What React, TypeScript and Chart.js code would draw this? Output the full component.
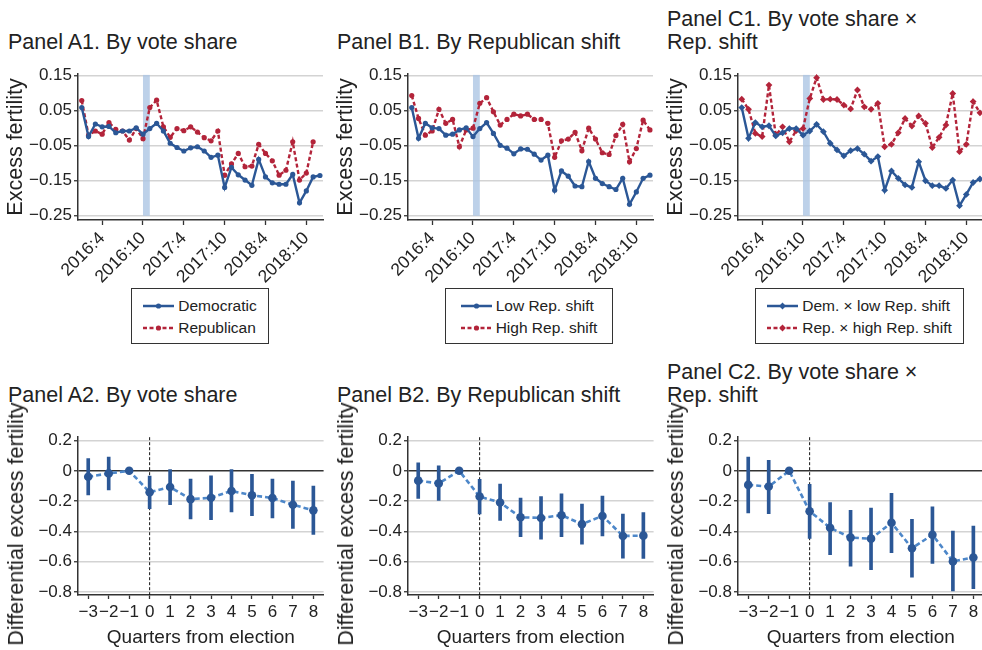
import React, { useEffect, useRef } from "react";
import { Chart, registerables } from "chart.js";

Chart.register(...registerables);

const FONT = "'Liberation Sans', Arial, Helvetica, sans-serif";
Chart.defaults.font.family = FONT;

const TEXT = "#222222";
const AXIS = "#333333";
const GRID = "#d3d3d3";
const BLUE = "#2b5796";
const RED = "#b3243a";
const BAND = "rgba(172, 198, 228, 0.8)";
const CI_BLUE = "#2b5796";
const LINE_BLUE = "#4d87c9";

// ---------- Top row: monthly excess fertility ----------
const MONTHS = [
  "2016:1", "2016:2", "2016:3", "2016:4", "2016:5", "2016:6",
  "2016:7", "2016:8", "2016:9", "2016:10", "2016:11", "2016:12",
  "2017:1", "2017:2", "2017:3", "2017:4", "2017:5", "2017:6",
  "2017:7", "2017:8", "2017:9", "2017:10", "2017:11", "2017:12",
  "2018:1", "2018:2", "2018:3", "2018:4", "2018:5", "2018:6",
  "2018:7", "2018:8", "2018:9", "2018:10", "2018:11", "2018:12",
];
const MONTH_TICKS = ["2016:4", "2016:10", "2017:4", "2017:10", "2018:4", "2018:10"];
const ELECTION_BAND = ["2016:10", "2016:11"];
const TOP_Y_TICKS = [0.15, 0.05, -0.05, -0.15, -0.25];

const A1_DEM = [
  0.059, -0.024, 0.012, 0.004, 0.005, -0.013, -0.008, -0.008, 0.001, -0.017, -0.001, 0.014,
  -0.008, -0.043, -0.055, -0.065, -0.056, -0.053, -0.065, -0.083, -0.077, -0.169, -0.112, -0.133,
  -0.148, -0.163, -0.089, -0.139, -0.156, -0.160, -0.160, -0.132, -0.213, -0.179, -0.139, -0.135,
];
const A1_REP = [
  0.079, -0.020, -0.008, -0.017, 0.016, -0.003, -0.008, -0.034, -0.001, -0.030, 0.059, 0.080,
  0.004, -0.026, -0.001, -0.007, 0.004, -0.011, -0.027, -0.036, -0.008, -0.134, -0.102, -0.072,
  -0.110, -0.108, -0.046, -0.072, -0.093, -0.134, -0.120, -0.039, -0.148, -0.128, -0.039, null,
];
const B1_LOW = [
  0.059, -0.029, 0.014, 0.001, -0.001, -0.020, -0.017, -0.005, 0.001, -0.024, -0.001, 0.016,
  -0.015, -0.049, -0.057, -0.073, -0.059, -0.060, -0.074, -0.091, -0.077, -0.177, -0.122, -0.137,
  -0.165, -0.167, -0.095, -0.143, -0.158, -0.167, -0.175, -0.143, -0.217, -0.182, -0.143, -0.134,
];
const B1_HIGH = [
  0.093, 0.028, -0.020, -0.008, 0.054, 0.014, 0.025, -0.053, -0.005, 0.000, 0.071, 0.087,
  0.047, 0.009, 0.025, 0.040, 0.035, 0.040, 0.025, 0.025, 0.014, -0.083, -0.036, -0.031,
  -0.012, -0.064, 0.000, -0.031, -0.070, -0.075, -0.021, 0.011, -0.096, -0.058, 0.023, -0.005,
];
const C1_DEM_LOW = [
  0.059, -0.029, 0.016, 0.004, 0.007, -0.022, -0.013, -0.001, -0.001, -0.020, -0.008, 0.011,
  -0.010, -0.043, -0.062, -0.079, -0.064, -0.058, -0.074, -0.094, -0.081, -0.177, -0.122, -0.143,
  -0.162, -0.169, -0.096, -0.150, -0.164, -0.164, -0.172, -0.148, -0.221, -0.189, -0.155, -0.145,
];
const C1_REP_HIGH = [
  0.083, 0.054, -0.015, -0.024, 0.123, -0.020, 0.004, -0.039, -0.007, -0.001, 0.085, 0.144,
  0.082, 0.083, 0.082, 0.066, 0.055, 0.109, 0.061, 0.054, 0.071, -0.053, -0.046, -0.013,
  0.028, 0.006, 0.035, 0.014, -0.055, -0.026, 0.009, 0.099, -0.067, -0.046, 0.076, 0.044,
];

// ---------- Bottom row: quarterly event-study estimates ----------
const QUARTERS = [-3, -2, -1, 0, 1, 2, 3, 4, 5, 6, 7, 8];
const ELECTION_QUARTER = 0;
const BOTTOM_Y_TICKS = [0.2, 0, -0.2, -0.4, -0.6, -0.8];

const A2_EST = [-0.039, -0.017, 0, -0.141, -0.107, -0.187, -0.178, -0.133, -0.161, -0.180, -0.224, -0.261];
const A2_LO = [-0.159, -0.126, null, -0.250, -0.224, -0.317, -0.322, -0.272, -0.296, -0.311, -0.380, -0.420];
const A2_HI = [0.080, 0.091, null, -0.035, 0.009, -0.054, -0.033, 0.009, -0.024, -0.054, -0.067, -0.100];

const B2_EST = [-0.065, -0.083, 0, -0.170, -0.209, -0.307, -0.311, -0.293, -0.352, -0.298, -0.430, -0.428];
const B2_LO = [-0.183, -0.196, null, -0.285, -0.328, -0.435, -0.452, -0.435, -0.485, -0.430, -0.576, -0.578];
const B2_HI = [0.052, 0.033, null, -0.057, -0.087, -0.180, -0.170, -0.152, -0.220, -0.167, -0.285, -0.276];

const C2_EST = [-0.093, -0.104, 0, -0.267, -0.376, -0.441, -0.448, -0.343, -0.511, -0.422, -0.598, -0.572];
const C2_LO = [-0.278, -0.283, null, -0.446, -0.554, -0.630, -0.652, -0.541, -0.702, -0.611, -0.793, -0.778];
const C2_HI = [0.091, 0.070, null, -0.089, -0.209, -0.261, -0.246, -0.148, -0.320, -0.237, -0.398, -0.365];

// ---------- helpers ----------
const fmtDec = (digits: number) => (v: any) => {
  const n = Number(v);
  if (Math.abs(n) < 1e-9) return "0";
  return (n < 0 ? "\u2212" : "") + Math.abs(n).toFixed(digits);
};
const fmtInt = (v: any) => {
  const n = Number(v);
  if (n === 0) return "0";
  return (n < 0 ? "\u2212" : "") + Math.abs(n);
};

const electionBand = {
  id: "electionBand",
  beforeDatasetsDraw(chart: any) {
    const { ctx, chartArea, scales } = chart;
    const x0 = scales.x.getPixelForValue(MONTHS.indexOf(ELECTION_BAND[0]));
    const x1 = scales.x.getPixelForValue(MONTHS.indexOf(ELECTION_BAND[1]));
    const yb = scales.y.getPixelForValue(TOP_Y_TICKS[TOP_Y_TICKS.length - 1]);
    ctx.save();
    ctx.fillStyle = BAND;
    ctx.fillRect(x0, chartArea.top + 1, x1 - x0, yb - chartArea.top - 1);
    ctx.restore();
  },
};

const electionLine = {
  id: "electionLine",
  beforeDatasetsDraw(chart: any) {
    const { ctx, chartArea, scales } = chart;
    const px = scales.x.getPixelForValue(ELECTION_QUARTER);
    ctx.save();
    ctx.strokeStyle = "#111";
    ctx.lineWidth = 1;
    ctx.setLineDash([3, 2]);
    ctx.beginPath();
    ctx.moveTo(px, chartArea.top);
    ctx.lineTo(px, chartArea.bottom);
    ctx.stroke();
    ctx.restore();
  },
};

function makeTopConfig(s1: (number | null)[], s2: (number | null)[], l1: string, l2: string, pointStyle: string, pointRadius: number) {
  const pts = (arr: (number | null)[]) => arr.map((v, i) => ({ x: i, y: v }));
  return {
    type: "line",
    data: {
      datasets: [
        {
          label: l1, data: pts(s1), borderColor: BLUE, backgroundColor: BLUE, borderWidth: 2.4,
          pointStyle, pointRadius, pointBorderWidth: 0, pointBackgroundColor: BLUE, tension: 0,
        },
        {
          label: l2, data: pts(s2), borderColor: RED, backgroundColor: RED, borderWidth: 2.4,
          borderDash: [4, 2.5], pointStyle, pointRadius, pointBorderWidth: 0, pointBackgroundColor: RED, tension: 0,
        },
      ],
    },
    options: {
      animation: false, responsive: false, maintainAspectRatio: false, events: [],
      layout: { padding: { top: 13.9, right: 7, bottom: 0, left: 0 } },
      plugins: { legend: { display: false }, tooltip: { enabled: false } },
      scales: {
        x: {
          type: "linear", min: -0.55, max: 35.45, offset: false,
          afterBuildTicks: (s: any) => { s.ticks = MONTH_TICKS.map((l) => ({ value: MONTHS.indexOf(l) })); },
          afterFit: (s: any) => { s.height = 70; },
          ticks: {
            autoSkip: false, minRotation: 45, maxRotation: 45, padding: 3, color: TEXT,
            font: { size: 17.5, family: FONT }, callback: (v: any) => MONTHS[Math.round(Number(v))],
          },
          grid: { offset: false, drawOnChartArea: false, drawTicks: true, tickLength: 5, tickColor: AXIS, tickWidth: 1.3 },
          border: { display: true, color: AXIS, width: 1.5 },
        },
        y: {
          min: -0.262, max: 0.155,
          afterBuildTicks: (s: any) => { s.ticks = TOP_Y_TICKS.map((v) => ({ value: v })); },
          afterFit: (s: any) => { s.width = 78; },
          ticks: { padding: 2, color: TEXT, font: { size: 17, family: FONT }, callback: fmtDec(2) },
          grid: { color: GRID, lineWidth: 1.5, drawTicks: true, tickLength: 4, tickColor: AXIS, tickWidth: 1.3 },
          border: { display: true, color: AXIS, width: 1.5 },
          title: {
            display: true, text: "Excess fertility", color: TEXT,
            font: { size: 21.5, family: FONT }, padding: { top: 3, bottom: 0 },
          },
        },
      },
    },
    plugins: [electionBand],
  };
}

function makeBottomConfig(est: number[], lo: (number | null)[], hi: (number | null)[]) {
  const bars: any[] = [];
  QUARTERS.forEach((q, i) => {
    if (lo[i] !== null && hi[i] !== null) bars.push({ x: q, y: [lo[i], hi[i]] });
  });
  return {
    type: "line",
    data: {
      datasets: [
        {
          type: "line", data: QUARTERS.map((q, i) => ({ x: q, y: est[i] })),
          borderColor: LINE_BLUE, borderWidth: 2.6, borderDash: [5, 3],
          pointRadius: 4.3, pointBorderWidth: 0, pointBackgroundColor: CI_BLUE, tension: 0, order: 0,
        },
        {
          type: "bar", data: bars, backgroundColor: CI_BLUE, barThickness: 3, grouped: false, order: 1,
        },
      ],
    },
    options: {
      animation: false, responsive: false, maintainAspectRatio: false, events: [],
      layout: { padding: { top: 10, right: 6.4, bottom: 0, left: 31 } },
      plugins: { legend: { display: false }, tooltip: { enabled: false } },
      scales: {
        x: {
          type: "linear", min: -3.5, max: 8.5, offset: false,
          afterBuildTicks: (s: any) => { s.ticks = QUARTERS.map((q) => ({ value: q })); },
          afterFit: (s: any) => { s.height = 55; },
          ticks: {
            autoSkip: false, minRotation: 0, maxRotation: 0, padding: 3, color: TEXT,
            font: { size: 17, family: FONT }, callback: fmtInt,
          },
          grid: { offset: false, drawOnChartArea: false, drawTicks: true, tickLength: 4, tickColor: AXIS, tickWidth: 1.3 },
          border: { display: true, color: AXIS, width: 1.5 },
          title: {
            display: true, text: "Quarters from election", color: TEXT,
            font: { size: 19, family: FONT }, padding: { top: 0, bottom: 1 },
          },
        },
        y: {
          min: -0.82, max: 0.222, beginAtZero: false,
          afterBuildTicks: (s: any) => { s.ticks = BOTTOM_Y_TICKS.map((v) => ({ value: v })); },
          afterFit: (s: any) => { s.width = 47; },
          ticks: { padding: 2, color: TEXT, font: { size: 17, family: FONT }, callback: fmtDec(1) },
          grid: {
            color: (c: any) => (c.tick && Math.abs(c.tick.value) < 1e-9 ? AXIS : GRID),
            lineWidth: 1.5, drawTicks: true, tickLength: 4, tickColor: AXIS, tickWidth: 1.3,
          },
          border: { display: true, color: AXIS, width: 1.5 },
        },
      },
    },
    plugins: [electionLine],
  };
}

function ChartCanvas(props: { left: number; top: number; width: number; height: number; make: () => any }) {
  const ref = useRef<HTMLCanvasElement>(null);
  useEffect(() => {
    const chart = new Chart(ref.current as HTMLCanvasElement, props.make());
    return () => chart.destroy();
  }, []);
  return (
    <canvas
      ref={ref}
      width={props.width}
      height={props.height}
      style={{ position: "absolute", left: props.left, top: props.top, width: props.width, height: props.height, display: "block" }}
    />
  );
}

function Title(props: { left: number; top: number; lines: string[] }) {
  return (
    <div style={{ position: "absolute", left: props.left, top: props.top, fontSize: 21.5, lineHeight: "23px", whiteSpace: "nowrap", color: TEXT }}>
      {props.lines.map((l, i) => (
        <div key={i}>{l}</div>
      ))}
    </div>
  );
}

function VerticalLabel(props: { cx: number; cy: number; text: string }) {
  return (
    <div
      style={{
        position: "absolute", left: props.cx, top: props.cy, fontSize: 21.5, lineHeight: "26px",
        whiteSpace: "nowrap", color: TEXT, transform: "translate(-50%, -50%) rotate(-90deg)",
      }}
    >
      {props.text}
    </div>
  );
}

type LegendItem = { label: string; color: string; dashed: boolean; marker: "circle" | "diamond" };

function Sample({ item }: { item: LegendItem }) {
  return (
    <svg width={31} height={10} style={{ display: "block" }}>
      <line x1={0} y1={5} x2={31} y2={5} stroke={item.color} strokeWidth={2.5} strokeDasharray={item.dashed ? "4 2.5" : undefined} />
      {item.marker === "circle" ? (
        <circle cx={15.5} cy={5} r={2.6} fill={item.color} />
      ) : (
        <polygon points="15.5,1.6 18.9,5 15.5,8.4 12.1,5" fill={item.color} />
      )}
    </svg>
  );
}

function Legend(props: { left: number; top: number; width: number; items: LegendItem[] }) {
  return (
    <div
      style={{
        position: "absolute", left: props.left, top: props.top, width: props.width, height: 56,
        boxSizing: "border-box", border: "1.5px solid #333", background: "#fff",
        display: "flex", justifyContent: "center", paddingTop: 6,
      }}
    >
      <div>
        {props.items.map((it, i) => (
          <div key={i} style={{ display: "flex", alignItems: "center", height: 22 }}>
            <Sample item={it} />
            <span style={{ marginLeft: 4, fontSize: 15.5, whiteSpace: "nowrap", color: TEXT }}>{it.label}</span>
          </div>
        ))}
      </div>
    </div>
  );
}

export default function App() {
  return (
    <div
      style={{
        position: "absolute", left: 0, top: 0, width: 982, height: 650, overflow: "hidden",
        background: "#fff", fontFamily: FONT, color: TEXT,
      }}
    >
      <Title left={8} top={31} lines={["Panel A1. By vote share"]} />
      <Title left={337} top={31} lines={["Panel B1. By Republican shift"]} />
      <Title left={667} top={8} lines={["Panel C1. By vote share \u00d7", "Rep. shift"]} />

      <ChartCanvas left={0} top={60} width={330} height={230}
        make={() => makeTopConfig(A1_DEM, A1_REP, "Democratic", "Republican", "circle", 2.6)} />
      <ChartCanvas left={330} top={60} width={330} height={230}
        make={() => makeTopConfig(B1_LOW, B1_HIGH, "Low Rep. shift", "High Rep. shift", "circle", 2.6)} />
      <ChartCanvas left={660} top={60} width={330} height={230}
        make={() => makeTopConfig(C1_DEM_LOW, C1_REP_HIGH, "Dem. \u00d7 low Rep. shift", "Rep. \u00d7 high Rep. shift", "rectRot", 3.4)} />

      <Legend left={131} top={288} width={138} items={[
        { label: "Democratic", color: BLUE, dashed: false, marker: "circle" },
        { label: "Republican", color: RED, dashed: true, marker: "circle" },
      ]} />
      <Legend left={445} top={288} width={168} items={[
        { label: "Low Rep. shift", color: BLUE, dashed: false, marker: "circle" },
        { label: "High Rep. shift", color: RED, dashed: true, marker: "circle" },
      ]} />
      <Legend left={755} top={288} width={209} items={[
        { label: "Dem. \u00d7 low Rep. shift", color: BLUE, dashed: false, marker: "diamond" },
        { label: "Rep. \u00d7 high Rep. shift", color: RED, dashed: true, marker: "diamond" },
      ]} />

      <Title left={8} top={384} lines={["Panel A2. By vote share"]} />
      <Title left={337} top={384} lines={["Panel B2. By Republican shift"]} />
      <Title left={667} top={361} lines={["Panel C2. By vote share \u00d7", "Rep. shift"]} />

      <ChartCanvas left={0} top={425} width={330} height={225} make={() => makeBottomConfig(A2_EST, A2_LO, A2_HI)} />
      <ChartCanvas left={330} top={425} width={330} height={225} make={() => makeBottomConfig(B2_EST, B2_LO, B2_HI)} />
      <ChartCanvas left={660} top={425} width={330} height={225} make={() => makeBottomConfig(C2_EST, C2_LO, C2_HI)} />

      <VerticalLabel cx={16} cy={524} text="Differential excess fertility" />
      <VerticalLabel cx={346} cy={524} text="Differential excess fertility" />
      <VerticalLabel cx={676} cy={524} text="Differential excess fertility" />
    </div>
  );
}
